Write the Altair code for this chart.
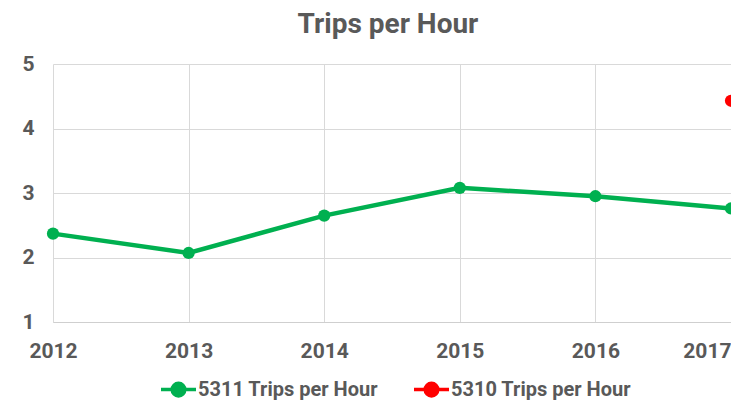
import altair as alt
import pandas as pd

years = [2012, 2013, 2014, 2015, 2016, 2017]
trips_5311 = [2.37, 2.07, 2.65, 3.08, 2.95, 2.76]
years_5310 = [2017]
trips_5310 = [4.43]

s1 = "5311 Trips per Hour"
s2 = "5310 Trips per Hour"

df = pd.concat([
    pd.DataFrame({"year": years, "value": trips_5311, "series": s1}),
    pd.DataFrame({"year": years_5310, "value": trips_5310, "series": s2}),
])

dom = [s1, s2]
rng = ["#00b050", "#ff0000"]
sym = "M-1,0L1,0M0,-0.36A0.36,0.36 0 1,1 0,0.36A0.36,0.36 0 1,1 0,-0.36Z"

legend = alt.Legend(
    title=None, orient="none", legendX=106, legendY=306, direction="horizontal",
    symbolType=sym, symbolSize=1225, symbolStrokeWidth=3.5, labelFont="Roboto",
    labelFontSize=20, labelFontWeight="bold", labelColor="#595959", columnPadding=29,
    labelOffset=0, symbolOpacity=1, labelLimit=400,
)

x = alt.X("year:Q", scale=alt.Scale(domain=[2012, 2017], nice=False, zero=False),
          axis=alt.Axis(values=years, format="d", title=None, ticks=False,
                        labelPadding=18, labelFontSize=21, labelFontWeight="bold",
                        labelFont="Roboto", labelColor="#595959", domain=True,
                        domainColor="#cfcfcf", gridColor="#d9d9d9", labelFlush=False,
                        labelAlign=alt.ExprRef("datum.value == 2017 ? 'right' : 'center'")))
y = alt.Y("value:Q", scale=alt.Scale(domain=[1, 5], nice=False, zero=False),
          axis=alt.Axis(values=[1, 2, 3, 4, 5], title=None, ticks=False, domain=False,
                        labelPadding=19, labelFontSize=21, labelFontWeight="bold",
                        labelFont="Roboto", labelColor="#595959", gridColor="#d9d9d9"))

line = alt.Chart(df).mark_line(strokeWidth=4.5).encode(
    x=x, y=y,
    stroke=alt.Stroke("series:N", scale=alt.Scale(domain=dom, range=rng), legend=legend),
)
pts = alt.Chart(df).mark_circle(size=150, opacity=1).encode(
    x=x, y=y,
    fill=alt.Fill("series:N", scale=alt.Scale(domain=dom, range=rng), legend=legend),
)

chart = alt.layer(line, pts).properties(
    width=678, height=258,
    title=alt.TitleParams("Trips per Hour", font="Roboto", fontSize=28, fontWeight="bold",
                          color="#595959", anchor="middle", offset=14, frame="group", dx=-4),
    autosize=alt.AutoSizeParams(type="none"),
    padding={"left": 45, "top": 56, "right": 0, "bottom": 78},
).configure_view(stroke=None)

chart.save("out.html", embed_options={"renderer": "svg", "actions": False})
